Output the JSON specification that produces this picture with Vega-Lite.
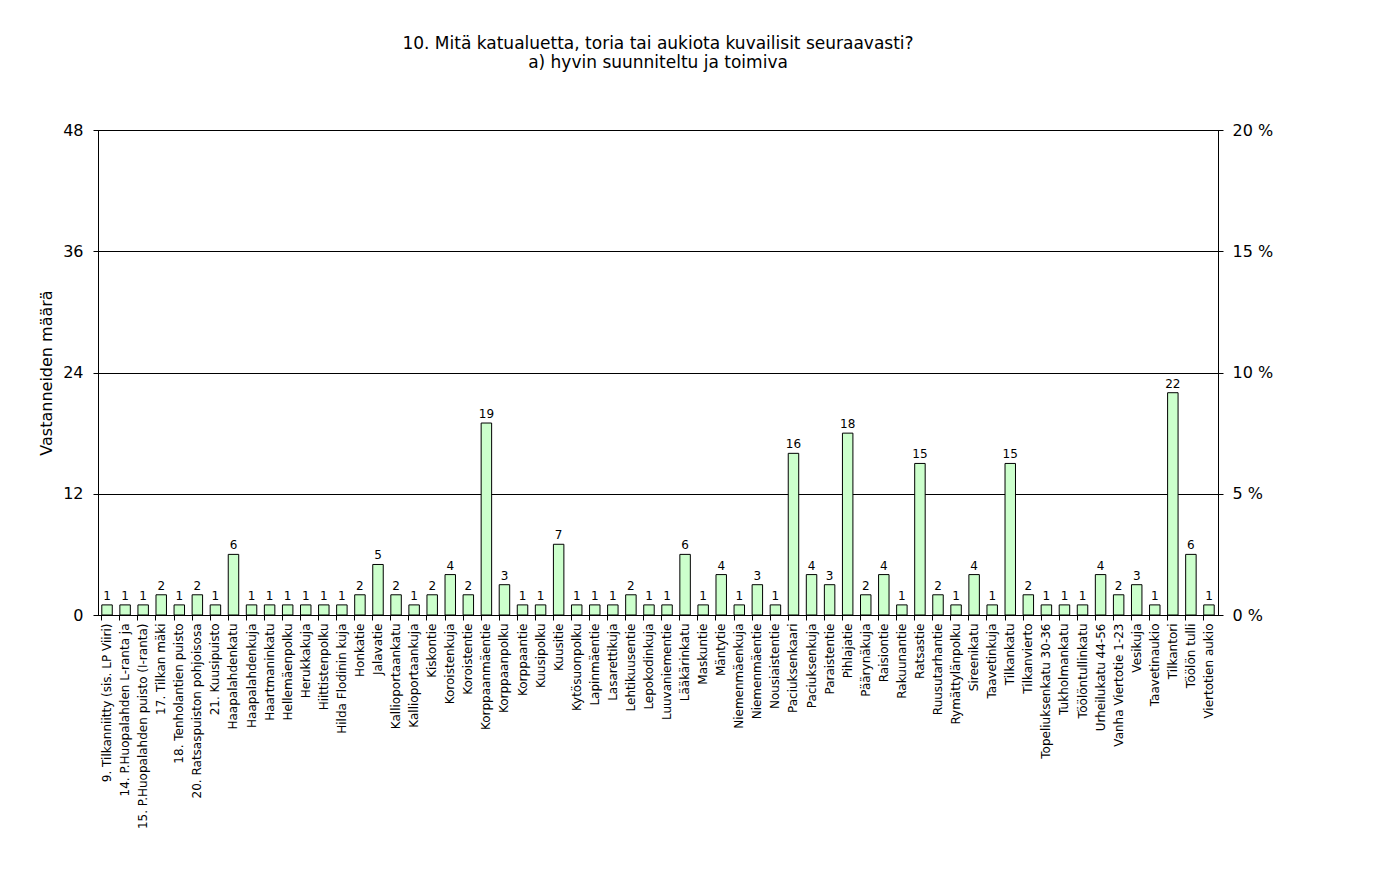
{
  "$schema": "https://vega.github.io/schema/vega-lite/v6.json",
  "autosize": {"type": "none"},
  "padding": {"left": 98, "top": 130, "right": 162, "bottom": 271},
  "width": 1120,
  "height": 485,
  "background": "white",
  "title": {
    "text": ["10. Mitä katualuetta, toria tai aukiota kuvailisit seuraavasti?", "a) hyvin suunniteltu ja toimiva"],
    "font": "DejaVu Sans",
    "fontSize": 17,
    "fontWeight": "normal",
    "color": "black",
    "anchor": "middle",
    "offset": 50,
    "lineHeight": 19
  },
  "config": {
    "view": {"stroke": "black", "strokeWidth": 1},
    "axis": {"labelFont": "DejaVu Sans", "titleFont": "DejaVu Sans", "labelColor": "black", "titleColor": "black", "domainColor": "black", "tickColor": "black"}
  },
  "data": {"values": [
    {"k": "9. Tilkanniitty (sis. LP Viiri)", "n": 1},
    {"k": "14. P.Huopalahden L-ranta ja", "n": 1},
    {"k": "15. P.Huopalahden puisto (I-ranta)", "n": 1},
    {"k": "17. Tilkan mäki", "n": 2},
    {"k": "18. Tenholantien puisto", "n": 1},
    {"k": "20. Ratsaspuiston pohjoisosa", "n": 2},
    {"k": "21. Kuusipuisto", "n": 1},
    {"k": "Haapalahdenkatu", "n": 6},
    {"k": "Haapalahdenkuja", "n": 1},
    {"k": "Haartmaninkatu", "n": 1},
    {"k": "Hellemäenpolku", "n": 1},
    {"k": "Herukkakuja", "n": 1},
    {"k": "Hiittistenpolku", "n": 1},
    {"k": "Hilda Flodinin kuja", "n": 1},
    {"k": "Honkatie", "n": 2},
    {"k": "Jalavatie", "n": 5},
    {"k": "Kallioportaankatu", "n": 2},
    {"k": "Kallioportaankuja", "n": 1},
    {"k": "Kiskontie", "n": 2},
    {"k": "Koroistenkuja", "n": 4},
    {"k": "Koroistentie", "n": 2},
    {"k": "Korppaanmäentie", "n": 19},
    {"k": "Korppaanpolku", "n": 3},
    {"k": "Korppaantie", "n": 1},
    {"k": "Kuusipolku", "n": 1},
    {"k": "Kuusitie", "n": 7},
    {"k": "Kytösuonpolku", "n": 1},
    {"k": "Lapinmäentie", "n": 1},
    {"k": "Lasarettikuja", "n": 1},
    {"k": "Lehtikuusentie", "n": 2},
    {"k": "Lepokodinkuja", "n": 1},
    {"k": "Luuvaniementie", "n": 1},
    {"k": "Lääkärinkatu", "n": 6},
    {"k": "Maskuntie", "n": 1},
    {"k": "Mäntytie", "n": 4},
    {"k": "Niemenmäenkuja", "n": 1},
    {"k": "Niemenmäentie", "n": 3},
    {"k": "Nousiaistentie", "n": 1},
    {"k": "Paciuksenkaari", "n": 16},
    {"k": "Paciuksenkuja", "n": 4},
    {"k": "Paraistentie", "n": 3},
    {"k": "Pihlajatie", "n": 18},
    {"k": "Päärynäkuja", "n": 2},
    {"k": "Raisiontie", "n": 4},
    {"k": "Rakuunantie", "n": 1},
    {"k": "Ratsastie", "n": 15},
    {"k": "Ruusutarhantie", "n": 2},
    {"k": "Rymättylänpolku", "n": 1},
    {"k": "Sireenikatu", "n": 4},
    {"k": "Taavetinkuja", "n": 1},
    {"k": "Tilkankatu", "n": 15},
    {"k": "Tilkanvierto", "n": 2},
    {"k": "Topeliuksenkatu 30-36", "n": 1},
    {"k": "Tukholmankatu", "n": 1},
    {"k": "Töölöntullinkatu", "n": 1},
    {"k": "Urheilukatu 44-56", "n": 4},
    {"k": "Vanha Viertotie 1-23", "n": 2},
    {"k": "Vesikuja", "n": 3},
    {"k": "Taavetinaukio", "n": 1},
    {"k": "Tilkantori", "n": 22},
    {"k": "Töölön tulli", "n": 6},
    {"k": "Viertotien aukio", "n": 1}
  ]},
  "encoding": {
    "x": {
      "field": "k", "type": "nominal", "sort": null,
      "scale": {"paddingInner": 0.42, "paddingOuter": 0.21},
      "axis": {"title": null, "labelAngle": -90, "labelFontSize": 12, "labelLimit": 0, "labelPadding": 3, "tickSize": 5, "bandPosition": 0, "domainColor": "black"}
    }
  },
  "layer": [
    {
      "mark": {"type": "bar", "fill": "#CCFFCC", "stroke": "black", "strokeWidth": 1},
      "encoding": {
        "y": {
          "field": "n", "type": "quantitative",
          "scale": {"domain": [0, 48], "nice": false},
          "axis": {"title": "Vastanneiden määrä", "titleFontSize": 16, "titleFontWeight": "normal", "titlePadding": 8, "labelFontSize": 16, "values": [0, 12, 24, 36, 48], "tickSize": 5, "labelPadding": 10, "grid": true, "gridColor": "black", "gridOpacity": 1, "gridWidth": 1}
        }
      }
    },
    {
      "mark": {"type": "text", "fontSize": 12, "font": "DejaVu Sans", "color": "black", "dy": -9},
      "encoding": {
        "y": {"field": "n", "type": "quantitative", "scale": {"domain": [0, 48], "nice": false},
          "axis": {"orient": "left", "title": null, "labels": false, "domain": false, "grid": false, "values": [0, 12, 24, 36, 48], "tickSize": -5}},
        "text": {"field": "n", "type": "quantitative"}
      }
    },
    {
      "mark": {"type": "text", "opacity": 0},
      "encoding": {
        "y": {
          "field": "n", "type": "quantitative",
          "scale": {"domain": [0, 48], "nice": false},
          "axis": {"orient": "right", "title": null, "labelFontSize": 16, "values": [0, 12, 24, 36, 48], "tickSize": 5, "labelPadding": 9, "grid": false, "labelExpr": "format(datum.value * 20 / 48, 'd') + ' %'"}
        },
        "text": {"field": "n", "type": "quantitative"}
      }
    },
    {
      "mark": {"type": "text", "opacity": 0},
      "encoding": {
        "y": {
          "field": "n", "type": "quantitative",
          "scale": {"domain": [0, 48], "nice": false},
          "axis": {"orient": "right", "title": null, "labels": false, "domain": false, "values": [0, 12, 24, 36, 48], "tickSize": -5, "grid": false}
        },
        "text": {"field": "n", "type": "quantitative"}
      }
    }
  ],
  "resolve": {"scale": {"y": "independent"}}
}
